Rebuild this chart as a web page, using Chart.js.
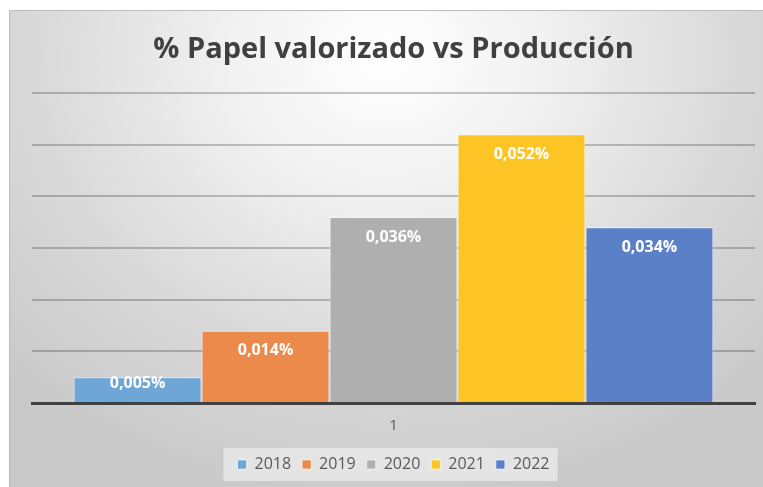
<!DOCTYPE html>
<html>
<head>
<meta charset="utf-8">
<title>% Papel valorizado vs Producción</title>
<script src="https://cdn.jsdelivr.net/npm/chart.js@4.4.1/dist/chart.umd.min.js"></script>
<style>
  html, body { margin: 0; padding: 0; background: #ffffff; }
  #frame {
    position: absolute; left: 9px; top: 10px; width: 754px; height: 477px;
    background: radial-gradient(ellipse 70% 95% at 50% 10%, #ffffff 0%, #f1f1f1 30%, #dadada 65%, #c9c9c9 100%);
    box-shadow: inset 1px 1px 0 #bdbdbd;
  }
  #frame canvas { position: absolute; left: 0; top: 0; }
</style>
</head>
<body>
<div id="frame"><canvas id="chart" width="754" height="477"></canvas></div>
<script>
// data (values in %)
var categories = ['1'];
var years = ['2018', '2019', '2020', '2021', '2022'];
var values = [0.005, 0.014, 0.036, 0.052, 0.034];
var yTicks = [0, 0.01, 0.02, 0.03, 0.04, 0.05, 0.06];

var colors = ['#6fa6d8', '#eb8a4a', '#afafaf', '#fcc525', '#5b80c8'];

Chart.defaults.font.family = "'Open Sans', sans-serif";

function fmt(v) {
  return v.toFixed(3).replace('.', ',') + '%';
}

// white value labels just inside the top of each bar
var barLabels = {
  id: 'barLabels',
  afterDatasetsDraw: function(chart) {
    var ctx = chart.ctx;
    ctx.save();
    ctx.font = "bold 16px 'Open Sans', sans-serif";
    ctx.fillStyle = '#ffffff';
    ctx.textAlign = 'center';
    ctx.textBaseline = 'middle';
    chart.data.datasets.forEach(function(ds, i) {
      var meta = chart.getDatasetMeta(i);
      meta.data.forEach(function(bar, j) {
        var h = bar.base - bar.y;
        var off = Math.min(20, (h - 12) / 2);
        ctx.fillText(fmt(ds.data[j]), bar.x, bar.y + off);
      });
    });
    ctx.restore();
  }
};

// light box behind the legend
var legendBox = {
  id: 'legendBox',
  beforeDraw: function(chart) {
    var boxes = chart.legend && chart.legend.legendHitBoxes;
    if (!boxes || !boxes.length) return;
    var first = boxes[0], last = boxes[boxes.length - 1];
    var cy = first.top + first.height / 2;
    var ctx = chart.ctx;
    ctx.save();
    ctx.fillStyle = 'rgba(238,238,238,0.7)';
    ctx.fillRect(first.left - 14, cy - 16.5, last.left + last.width + 8 - (first.left - 14), 33);
    ctx.restore();
  }
};

var datasets = years.map(function(y, i) {
  return {
    label: y,
    data: [values[i]],
    backgroundColor: colors[i],
    borderColor: 'rgba(255,255,255,0.6)',
    borderWidth: 1,
    categoryPercentage: 0.885,
    barPercentage: 1
  };
});

new Chart(document.getElementById('chart'), {
  type: 'bar',
  data: { labels: categories, datasets: datasets },
  options: {
    responsive: false,
    animation: false,
    layout: { padding: { left: 23, right: 8, top: 0, bottom: 4.5 } },
    plugins: {
      title: {
        display: true,
        text: '% Papel valorizado vs Producción',
        color: '#404040',
        font: { size: 29, weight: 'bold' },
        padding: { top: 22, bottom: 26.2 }
      },
      legend: {
        position: 'bottom',
        labels: {
          boxWidth: 9,
          boxHeight: 9,
          padding: 11,
          color: '#595959',
          font: { size: 16 }
        }
      },
      tooltip: { enabled: false }
    },
    scales: {
      x: {
        grid: { display: false, drawTicks: false, tickLength: 0 },
        border: { display: true, color: '#404040', width: 3 },
        ticks: { color: '#595959', font: { size: 15 }, padding: 14 },
        afterFit: function(s) { s.height = 42.5; }
      },
      y: {
        min: yTicks[0],
        max: yTicks[yTicks.length - 1],
        afterBuildTicks: function(s) { s.ticks = yTicks.map(function(v) { return { value: v }; }); },
        grid: { color: 'rgba(0,0,0,0.22)', lineWidth: 2, drawTicks: false },
        border: { display: false },
        ticks: { display: false },
        afterFit: function(s) { s.width = 0; }
      }
    }
  },
  plugins: [legendBox, barLabels]
});
</script>
</body>
</html>
